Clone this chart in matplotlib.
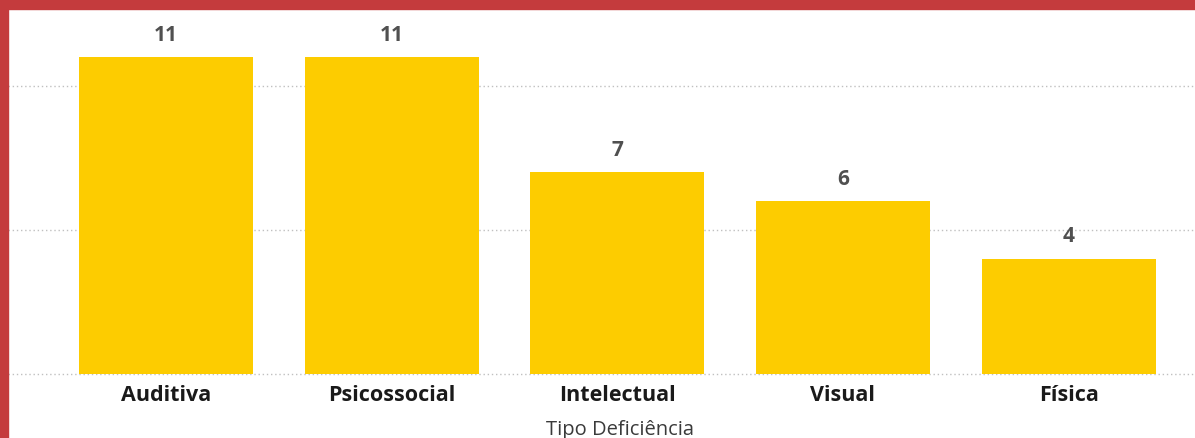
import matplotlib
matplotlib.use('Agg')
import matplotlib.pyplot as plt
from matplotlib.patches import Rectangle

categorias = ['Auditiva', 'Psicossocial', 'Intelectual', 'Visual', 'Física']
valores = [11, 11, 7, 6, 4]
titulo_x = 'Tipo Deficiência'

plt.rcParams['font.family'] = ['Open Sans', 'DejaVu Sans']

fig = plt.figure(figsize=(11.95, 4.39), dpi=100)
ax = fig.add_axes([8/1195, 62/439, 1 - 8/1195, (429 - 62)/439])

x = range(len(categorias))
ax.bar(x, valores, width=0.77, color='#FDCC00', zorder=2)
for i, v in zip(x, valores):
    ax.text(i, v + 0.8, str(v), ha='center', va='center', fontsize=15,
            fontweight='bold', color='#505050')

ax.set_xlim(-0.70, 4.56)
ax.set_ylim(-0.07, 12.67)
ax.set_yticks([0, 5, 10])
ax.set_yticklabels([])
ax.yaxis.grid(True, linestyle=(0, (1, 2)), color='#c0c0c0', linewidth=1, zorder=0)
ax.tick_params(axis='both', length=0)
ax.set_xticks(list(x))
ax.set_xticklabels(categorias, fontsize=15.5, fontweight='bold', color='#1a1a1a')
ax.tick_params(axis='x', pad=6)
for s in ax.spines.values():
    s.set_visible(False)

fig.text(620/1195, 1 - 430/439, titulo_x, ha='center', va='center',
         fontsize=14.5, color='#3a3a3a')

# red frame of the report
fig.patches.append(Rectangle((0, 1 - 10/439), 1, 10/439, transform=fig.transFigure,
                             color='#C43B3D', zorder=5))
fig.patches.append(Rectangle((0, 0), 8/1195, 1, transform=fig.transFigure,
                             color='#C43B3D', zorder=5))

fig.savefig('out.png', dpi=100)
